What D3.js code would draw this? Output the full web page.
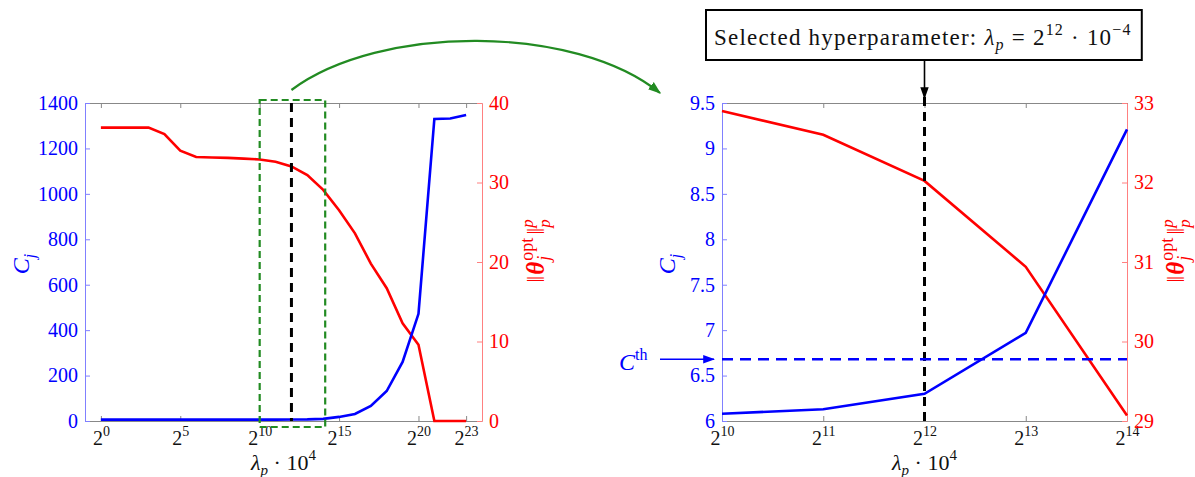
<!DOCTYPE html>
<html>
<head>
<meta charset="utf-8">
<script src="https://cdn.jsdelivr.net/npm/d3@7"></script>
<style>
body { margin: 0; background: #fff; }
text { font-family: "Liberation Serif", "DejaVu Serif", serif; }
</style>
</head>
<body>
<div id="chart_container"></div>
<script>
// left panel: full sweep of lambda_p (exponent of 2)
var exp_left = [0,1,2,3,4,5,6,7,8,9,10,11,12,13,14,15,16,17,18,19,20,21,22,23]
var cj_left = [6,6,6,6,6,6,6,6,6,6,6.08,6.13,6.3,6.97,9.21,18,31,66,132,260,472,1330,1332,1347]
var norm_left = [36.9,36.9,36.9,36.9,36.1,34.0,33.2,33.15,33.1,33.0,32.9,32.6,32.02,30.94,29.07,26.5,23.6,19.8,16.7,12.3,9.6,0,0,0]

// right panel: zoom on 2^10 .. 2^14
var exp_right = [10,11,12,13,14]
var cj_right = [6.08,6.13,6.30,6.97,9.21]
var norm_right = [32.90,32.60,32.02,30.94,29.07]

var c_th = 6.68
var exp_sel = 12
var zoom_window = [10,14]

var xticks_left = [0,5,10,15,20,23]
var yticks_cj_left = [0,200,400,600,800,1000,1200,1400]
var yticks_norm_left = [0,10,20,30,40]
var xticks_right = [10,11,12,13,14]
var yticks_cj_right = [6,6.5,7,7.5,8,8.5,9,9.5]
var yticks_norm_right = [29,30,31,32,33]

var W = 1195, H = 477
var top_y = 103, bot_y = 421
var BLUE = "#0000ff", RED = "#ff0000", GREEN = "#228b22"

var svg = d3.select("#chart_container")
    .append("svg")
        .attr("width", W)
        .attr("height", H)

var defs = svg.append("defs")
function marker(id, color, size) {
    defs.append("marker")
        .attr("id", id)
        .attr("viewBox", "0 0 10 10")
        .attr("refX", 9).attr("refY", 5)
        .attr("markerWidth", size).attr("markerHeight", size)
        .attr("markerUnits", "userSpaceOnUse")
        .attr("orient", "auto")
        .append("path")
            .attr("d", "M0,1.5 L10,5 L0,8.5 Z")
            .attr("fill", color)
}
marker("arr_green", GREEN, 13)
marker("arr_black", "#000", 12)
marker("arr_blue", BLUE, 12)

// text with sub/superscripts: parts = [{t, off, fs, it, bd, back}]
function rich(el, parts) {
    var cur = 0
    var prev = null
    parts.forEach(function(p) {
        var off = p.off || 0
        var ts = el.append("tspan").text(p.t)
        if (off - cur != 0) ts.attr("dy", off - cur)
        cur = off
        if (p.fs) ts.attr("font-size", p.fs)
        if (p.it) ts.style("font-style", "italic")
        if (p.bd) ts.style("font-weight", "bold")
        if (p.dx) ts.attr("dx", p.dx)
        if (p.back && prev) ts.attr("dx", -prev.node().getComputedTextLength())
        p.node = ts
        prev = ts
    })
}

function pow2(e) { return Math.pow(2, e) }

function draw_panel(o) {
    var g = svg.append("g")
    var x = d3.scaleLog().base(2).domain([pow2(o.xdom[0]), pow2(o.xdom[1])]).range([o.x0, o.x1])
    var yl = d3.scaleLinear().domain(o.ldom).range([bot_y, top_y])
    var yr = d3.scaleLinear().domain(o.rdom).range([bot_y, top_y])

    // bottom axis + tick labels 2^k
    var xb = g.append("g")
        .attr("transform", "translate(0," + bot_y + ")")
        .call(d3.axisBottom(x).tickValues(o.xticks.map(pow2)).tickSizeInner(-5).tickSizeOuter(0).tickPadding(10))
    xb.select(".domain").attr("stroke", "#888")
    xb.selectAll(".tick line").attr("stroke", "#888")
    xb.selectAll(".tick text").each(function(d) {
        var t = d3.select(this).text("").attr("font-size", 20).attr("fill", "#111")
        rich(t, [{t: "2"}, {t: String(Math.round(Math.log2(d))), off: -9, fs: 14}])
    })

    var xt = g.append("g")
        .attr("transform", "translate(0," + top_y + ")")
        .call(d3.axisTop(x).tickValues(o.xticks.map(pow2)).tickSizeInner(-5).tickSizeOuter(0).tickFormat(""))
    xt.select(".domain").attr("stroke", "#888")
    xt.selectAll(".tick line").attr("stroke", "#888")

    var ya = g.append("g")
        .attr("transform", "translate(" + o.x0 + ",0)")
        .call(d3.axisLeft(yl).tickValues(o.lticks).tickSizeInner(-5).tickSizeOuter(0).tickPadding(7).tickFormat(function(d) { return String(d) }))
    ya.select(".domain").attr("stroke", "#8080ff")
    ya.selectAll(".tick line").attr("stroke", "#8080ff")
    ya.selectAll(".tick text").attr("font-size", 20).attr("fill", BLUE).attr("font-family", "Liberation Serif")

    var yb = g.append("g")
        .attr("transform", "translate(" + o.x1 + ",0)")
        .call(d3.axisRight(yr).tickValues(o.rticks).tickSizeInner(-5).tickSizeOuter(0).tickPadding(7).tickFormat(function(d) { return String(d) }))
    yb.select(".domain").attr("stroke", "#ff8080")
    yb.selectAll(".tick line").attr("stroke", "#ff8080")
    yb.selectAll(".tick text").attr("font-size", 20).attr("fill", RED).attr("font-family", "Liberation Serif")

    // series
    var line_c = d3.line().x(function(d) { return x(pow2(d[0])) }).y(function(d) { return yl(d[1]) })
    var line_n = d3.line().x(function(d) { return x(pow2(d[0])) }).y(function(d) { return yr(d[1]) })

    g.append("path")
        .datum(d3.zip(o.exps, o.norm))
        .attr("d", line_n)
        .attr("fill", "none").attr("stroke", RED).attr("stroke-width", 2.6)
    g.append("path")
        .datum(d3.zip(o.exps, o.cj))
        .attr("d", line_c)
        .attr("fill", "none").attr("stroke", BLUE).attr("stroke-width", 2.6)

    // selected lambda
    g.append("line")
        .attr("x1", x(pow2(exp_sel))).attr("x2", x(pow2(exp_sel)))
        .attr("y1", o.selTop).attr("y2", bot_y)
        .attr("stroke", "#000").attr("stroke-width", 3).attr("stroke-dasharray", "9,6")

    // axis titles
    var xl = g.append("text")
        .attr("x", (o.x0 + o.x1) / 2).attr("y", 470)
        .attr("text-anchor", "middle").attr("font-size", 22).attr("fill", "#111")
    rich(xl, [{t: "λ", it: true}, {t: "p", off: 5, fs: 15, it: true}, {t: " · 10", off: 0}, {t: "4", off: -10, fs: 15}])

    var cl = g.append("text")
        .attr("transform", "translate(" + o.cjx + ",264) rotate(-90)")
        .attr("text-anchor", "middle").attr("font-size", 24).attr("fill", BLUE)
    rich(cl, [{t: "C", it: true}, {t: "j", off: 6, fs: 16, it: true}])

    var nl = g.append("text")
        .attr("transform", "translate(" + o.nx + ",251) rotate(-90)")
        .attr("text-anchor", "middle").attr("font-size", 25).attr("fill", RED)
    var parts = [
        {t: "‖"},
        {t: "θ", it: true, bd: true, dx: 1},
        {t: "opt", off: -11, fs: 18, dx: 1},
        {t: "j", off: 6, fs: 18, it: true, back: true},
        {t: "‖", off: 0},
        {t: "p", off: -11, fs: 17, it: true},
        {t: "p", off: 6, fs: 17, it: true, back: true}
    ]
    rich(nl, parts)
    var w_opt = parts[2].node.node().getComputedTextLength()
    var w_j = parts[3].node.node().getComputedTextLength()
    parts[4].node.attr("dx", w_opt - w_j + 3)

    return {x: x, yl: yl, yr: yr, g: g}
}

var left = draw_panel({
    x0: 85, x1: 482, xdom: [-1, 24],
    ldom: [0, 1400], rdom: [0, 40],
    xticks: xticks_left, lticks: yticks_cj_left, rticks: yticks_norm_left,
    exps: exp_left, cj: cj_left, norm: norm_left,
    selTop: top_y, cjx: 29, nx: 544
})

var right = draw_panel({
    x0: 722, x1: 1127, xdom: [10, 14],
    ldom: [6, 9.5], rdom: [29, 33],
    xticks: xticks_right, lticks: yticks_cj_right, rticks: yticks_norm_right,
    exps: exp_right, cj: cj_right, norm: norm_right,
    selTop: 97, cjx: 675, nx: 1184
})

// zoom window on the left panel
var zx0 = left.x(pow2(zoom_window[0])), zx1 = left.x(pow2(zoom_window[1])) + 2
svg.append("rect")
    .attr("x", zx0).attr("y", top_y - 3)
    .attr("width", zx1 - zx0).attr("height", bot_y - top_y + 9)
    .attr("fill", "none").attr("stroke", GREEN).attr("stroke-width", 2.2)
    .attr("stroke-dasharray", "7,4")

// curved arrow to the zoomed panel
svg.append("path")
    .attr("d", "M" + left.x(pow2(exp_sel)) + ",90 C380,24 575,24 660,93")
    .attr("fill", "none").attr("stroke", GREEN).attr("stroke-width", 2.2)
    .attr("marker-end", "url(#arr_green)")

// C threshold
svg.append("line")
    .attr("x1", 722).attr("x2", 1127)
    .attr("y1", right.yl(c_th)).attr("y2", right.yl(c_th))
    .attr("stroke", BLUE).attr("stroke-width", 2.6).attr("stroke-dasharray", "11,7")
svg.append("line")
    .attr("x1", 660).attr("x2", 714)
    .attr("y1", right.yl(c_th)).attr("y2", right.yl(c_th))
    .attr("stroke", BLUE).attr("stroke-width", 1.6)
    .attr("marker-end", "url(#arr_blue)")
var cth = svg.append("text")
    .attr("x", 619).attr("y", 370)
    .attr("font-size", 24).attr("fill", BLUE)
rich(cth, [{t: "C", it: true}, {t: "th", off: -10, fs: 16}])

// selected hyperparameter box
var title = svg.append("text")
    .attr("x", 714).attr("y", 45)
    .attr("font-size", 23).attr("fill", "#111")
rich(title, [
    {t: "Selected hyperparameter:  "},
    {t: "λ", it: true}, {t: "p", off: 5, fs: 16, it: true},
    {t: " = 2", off: 0}, {t: "12", off: -10, fs: 16},
    {t: " · 10", off: 0}, {t: "−4", off: -10, fs: 16}
])
// stretch the letters so the line fills the box like the original
var natural = title.node().getBBox().width
var nchar = title.text().length
title.attr("letter-spacing", Math.max(0, (419 - natural) / nchar))
var bb = title.node().getBBox()
svg.insert("rect", function() { return title.node() })
    .attr("x", 706).attr("y", 10)
    .attr("width", bb.x + bb.width + 10 - 706).attr("height", 50)
    .attr("fill", "#fff").attr("stroke", "#000").attr("stroke-width", 2)
svg.append("line")
    .attr("x1", right.x(pow2(exp_sel))).attr("x2", right.x(pow2(exp_sel)))
    .attr("y1", 61).attr("y2", 98)
    .attr("stroke", "#000").attr("stroke-width", 1.6)
    .attr("marker-end", "url(#arr_black)")
</script>
</body>
</html>
